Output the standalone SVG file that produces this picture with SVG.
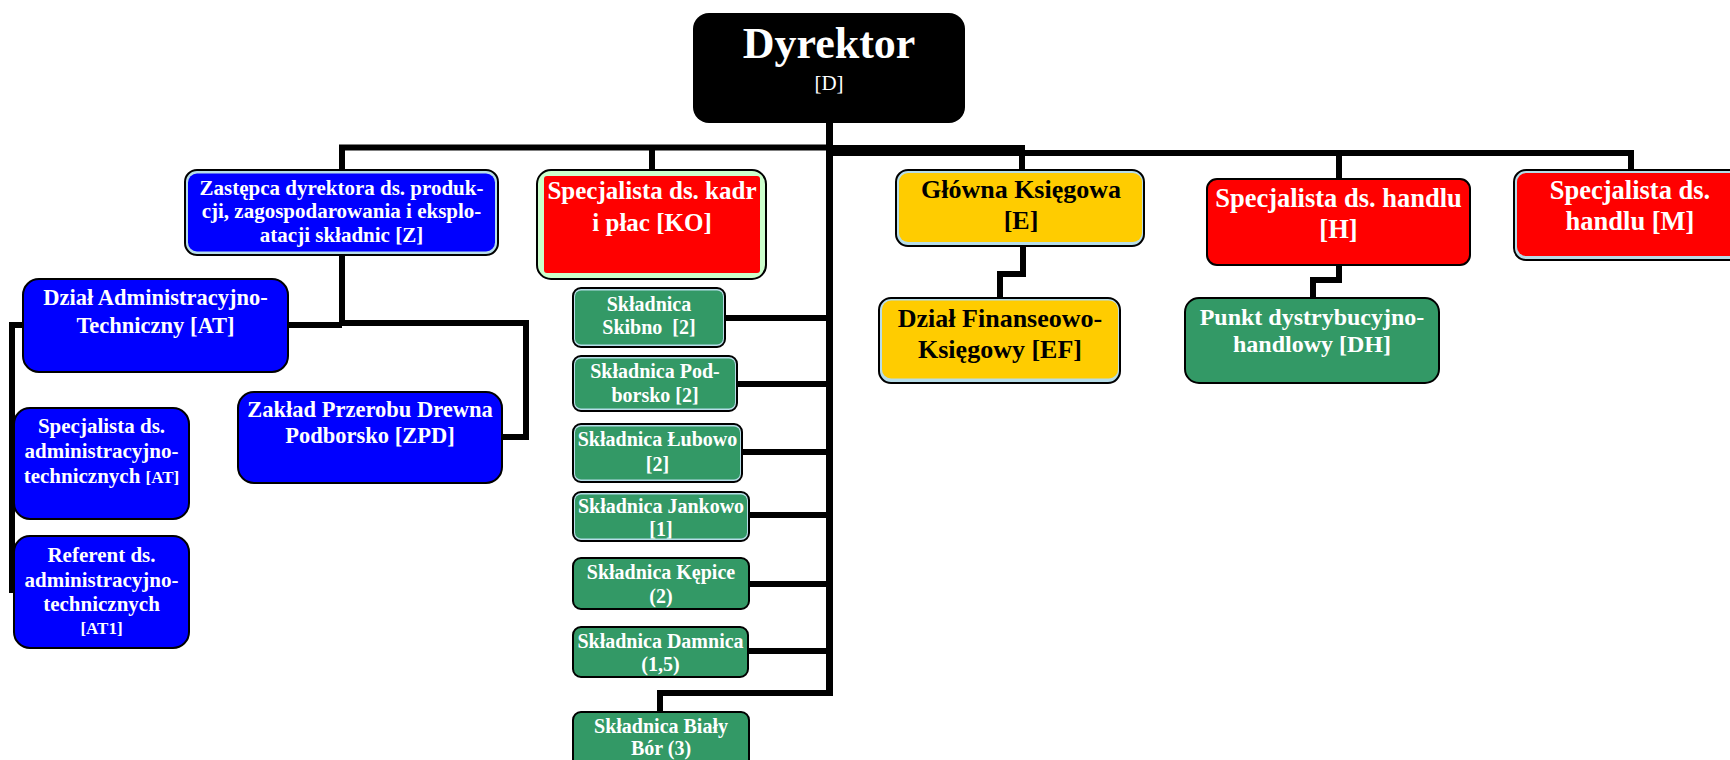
<svg xmlns="http://www.w3.org/2000/svg" width="1730" height="760" viewBox="0 0 1730 760">
<style>
.t{font-family:"Liberation Serif","Times New Roman",serif;font-weight:bold;text-anchor:middle}
.w{fill:#fff}.k{fill:#000}
.ob{stroke:#000;stroke-width:2}
.lb{fill:#B7DDE8}.lg{fill:#CCFFCC}
.blue{fill:#0000FF}.red{fill:#FF0000}.yel{fill:#FFCC00}.grn{fill:#339966}
.ln{stroke:#000;stroke-width:6;fill:none;stroke-linejoin:miter}
.g20{font-size:20px}
.nw{font-weight:normal}
</style>
<rect width="1730" height="760" fill="#fff"/>
<g id="connectors">
<line x1="829.5" y1="122" x2="829.5" y2="696" stroke="#000" stroke-width="7"/>
<path class="ln" d="M342,170 V147.5 H830"/>
<path class="ln" d="M652,147.5 V170"/>
<path class="ln" d="M830,148 H1022 V170"/>
<path class="ln" d="M830,153 H1631 V170"/>
<path class="ln" d="M1339,153 V179"/>
<path class="ln" d="M342,255 V323 H526 V437 H502"/>
<path class="ln" d="M289,325 H342"/>
<path class="ln" d="M23,325 H12 V593"/>
<path class="ln" d="M725,318 H829"/>
<path class="ln" d="M737,384 H829"/>
<path class="ln" d="M742,452 H829"/>
<path class="ln" d="M749,515 H829"/>
<path class="ln" d="M749,584 H829"/>
<path class="ln" d="M748,651 H829"/>
<path class="ln" d="M829,693 H660 V712"/>
<path class="ln" d="M1023,246 V274 H1000 V298"/>
<path class="ln" d="M1339,265 V280 H1313 V298"/>
</g>
<g id="D">
<rect x="693" y="13" width="272" height="110" rx="16" fill="#000"/>
<text class="t w" x="829" y="58" font-size="44">Dyrektor</text>
<text class="t w nw" x="829" y="90" font-size="21">[D]</text>
</g>
<g id="Z">
<rect class="lb ob" x="185" y="170" width="313" height="85" rx="12"/>
<rect class="blue" x="188" y="173.5" width="307" height="78" rx="9"/>
<text class="t w" font-size="21"><tspan x="341.5" y="195">Zastępca dyrektora ds. produk-</tspan><tspan x="341.5" y="218">cji, zagospodarowania i eksplo-</tspan><tspan x="341.5" y="242">atacji składnic [Z]</tspan></text>
</g>
<g id="KO">
<rect class="lg ob" x="537" y="170" width="229" height="109" rx="14"/>
<rect class="red" x="544" y="176" width="216" height="97" rx="3"/>
<text class="t w" font-size="25"><tspan x="652" y="199">Specjalista ds. kadr</tspan><tspan x="652" y="231">i płac [KO]</tspan></text>
</g>
<g id="E">
<rect class="lb ob" x="896" y="170" width="248" height="76" rx="12"/>
<rect class="yel" x="899" y="173" width="243" height="69" rx="9"/>
<text class="t k" font-size="26"><tspan x="1021" y="198">Główna Księgowa</tspan><tspan x="1021" y="229">[E]</tspan></text>
</g>
<g id="EF">
<rect class="lb ob" x="879" y="298" width="241" height="85" rx="12"/>
<rect class="yel" x="882" y="300.5" width="236" height="78" rx="9"/>
<text class="t k" font-size="26"><tspan x="1000" y="327">Dział Finanseowo-</tspan><tspan x="1000" y="358">Księgowy [EF]</tspan></text>
</g>
<g id="H">
<rect class="red ob" x="1207" y="179" width="263" height="86" rx="10"/>
<text class="t w" font-size="26.5"><tspan x="1338.5" y="207">Specjalista ds. handlu</tspan><tspan x="1338.5" y="238">[H]</tspan></text>
</g>
<g id="M">
<rect class="lb ob" x="1514" y="170" width="240" height="90" rx="12"/>
<rect class="red" x="1517" y="173" width="235" height="83" rx="9"/>
<text class="t w" font-size="26.5"><tspan x="1630" y="199">Specjalista ds.</tspan><tspan x="1630" y="230">handlu [M]</tspan></text>
</g>
<g id="DH">
<rect class="grn ob" x="1185" y="298" width="254" height="85" rx="14"/>
<text class="t w" font-size="24"><tspan x="1312" y="325">Punkt dystrybucyjno-</tspan><tspan x="1312" y="352">handlowy [DH]</tspan></text>
</g>
<g id="AT">
<rect class="blue ob" x="23" y="279" width="265" height="93" rx="16"/>
<text class="t w" font-size="22.5"><tspan x="155.5" y="305">Dział Administracyjno-</tspan><tspan x="155.5" y="333">Techniczny [AT]</tspan></text>
</g>
<g id="ZPD">
<rect class="blue ob" x="238" y="392" width="264" height="91" rx="16"/>
<text class="t w" font-size="22.5"><tspan x="370" y="417">Zakład Przerobu Drewna</tspan><tspan x="370" y="443">Podborsko [ZPD]</tspan></text>
</g>
<g id="SAT">
<rect class="blue ob" x="14" y="408" width="175" height="111" rx="16"/>
<text class="t w" font-size="21"><tspan x="101.5" y="433">Specjalista ds.</tspan><tspan x="101.5" y="458">administracyjno-</tspan><tspan x="101.5" y="483">technicznych <tspan font-size="17">[AT]</tspan></tspan></text>
</g>
<g id="AT1">
<rect class="blue ob" x="14" y="536" width="175" height="112" rx="16"/>
<text class="t w" font-size="21"><tspan x="101.5" y="562">Referent ds.</tspan><tspan x="101.5" y="587">administracyjno-</tspan><tspan x="101.5" y="611">technicznych</tspan><tspan x="101.5" y="634" font-size="17">[AT1]</tspan></text>
</g>
<g id="S1">
<rect class="lb ob" x="573" y="288" width="152" height="59" rx="8"/>
<rect class="grn" x="575" y="290.5" width="148" height="54" rx="6"/>
<text class="t w g20" xml:space="preserve"><tspan x="649" y="311">Składnica</tspan><tspan x="649" y="334">Skibno  [2]</tspan></text>
</g>
<g id="S2">
<rect class="lb ob" x="573" y="356" width="164" height="55" rx="8"/>
<rect class="grn" x="575" y="358.5" width="160" height="50" rx="6"/>
<text class="t w g20"><tspan x="655" y="378">Składnica Pod-</tspan><tspan x="655" y="402">borsko [2]</tspan></text>
</g>
<g id="S3">
<rect class="lb ob" x="573" y="424" width="169" height="58" rx="8"/>
<rect class="grn" x="575" y="426.5" width="165" height="53" rx="6"/>
<text class="t w g20"><tspan x="657.5" y="446">Składnica Łubowo</tspan><tspan x="657.5" y="471">[2]</tspan></text>
</g>
<g id="S4">
<rect class="lb ob" x="573" y="492" width="176" height="49" rx="8"/>
<rect class="grn" x="575" y="494.5" width="172" height="44" rx="6"/>
<text class="t w g20"><tspan x="661" y="513">Składnica Jankowo</tspan><tspan x="661" y="536">[1]</tspan></text>
</g>
<g id="S5">
<rect class="grn ob" x="573" y="558" width="176" height="51" rx="8"/>
<text class="t w g20"><tspan x="661" y="579">Składnica Kępice</tspan><tspan x="661" y="603">(2)</tspan></text>
</g>
<g id="S6">
<rect class="grn ob" x="573" y="627" width="175" height="50" rx="8"/>
<text class="t w g20"><tspan x="660.5" y="648">Składnica Damnica</tspan><tspan x="660.5" y="671">(1,5)</tspan></text>
</g>
<g id="S7">
<rect class="grn ob" x="573" y="712" width="176" height="62" rx="8"/>
<text class="t w g20"><tspan x="661" y="733">Składnica Biały</tspan><tspan x="661" y="755">Bór (3)</tspan></text>
</g>
</svg>
